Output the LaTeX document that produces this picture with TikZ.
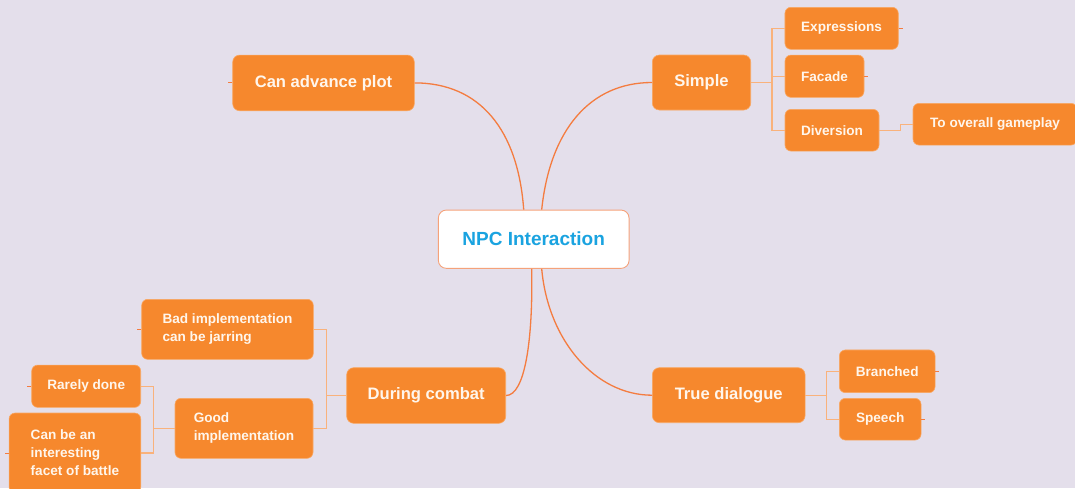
\documentclass[tikz,border=0pt]{standalone}
\usepackage{fontspec}
\setmainfont{Liberation Sans}
\definecolor{bg}{HTML}{E4DFEB}
\definecolor{org}{HTML}{F6882D}
\definecolor{orgline}{HTML}{F9A864}
\definecolor{edge}{HTML}{F47C40}
\definecolor{subedge}{HTML}{F9B27C}
\definecolor{rootborder}{HTML}{F5A27A}
\definecolor{rootblue}{HTML}{1AA3E0}
\definecolor{txt}{HTML}{FFF6EC}
\begin{document}
\begin{tikzpicture}[x=1pt,y=-1pt,
  box/.style={fill=org, draw=orgline, line width=0.6pt, text=txt, inner sep=0pt, rounded corners=7pt, align=left},
  big/.style={box, font=\fontsize{16.6pt}{20pt}\selectfont\bfseries},
  small/.style={box, rounded corners=6pt, font=\fontsize{13.6pt}{18pt}\selectfont\bfseries},
  rootbox/.style={fill=white, draw=rootborder, line width=0.9pt, rounded corners=8pt, inner sep=0pt, text=rootblue, font=\fontsize{19pt}{22pt}\selectfont\bfseries},
  mainedge/.style={draw=edge, line width=1.3pt},
  subedge/.style={draw=subedge, line width=1.2pt},
  stub/.style={draw=edge, line width=1pt}
]
\fill[bg] (0,0) rectangle (1075,488);
\useasboundingbox (0,0) rectangle (1075,488);
\clip (0,0) rectangle (1075,488);

% nodes
\node[rootbox, minimum width=190.7pt, minimum height=58.3pt] (root) at (533.7,239.2) {NPC Interaction};

\node[big, minimum width=181.6pt, minimum height=55.7pt] (adv) at (323.5,82.9) {Can advance plot};
\node[big, minimum width=98.4pt, minimum height=55pt] (simple) at (701.5,82.5) {Simple};
\node[big, minimum width=152.7pt, minimum height=55pt] (td) at (728.7,395.2) {True dialogue};
\node[big, minimum width=159pt, minimum height=55.6pt] (combat) at (426.2,395.5) {During combat};

\node[small, minimum width=113.3pt, minimum height=42pt] (expr) at (841.6,28.3) {Expressions};
\node[small, minimum width=79pt, minimum height=42.3pt] (fac) at (824.5,76.2) {Facade};
\node[small, minimum width=94pt, minimum height=41.7pt] (div) at (832,130.2) {Diversion};
\node[small, minimum width=164pt, minimum height=41.7pt] (gp) at (995,124.2) {To overall gameplay};

\node[small, minimum width=95.7pt, minimum height=42.7pt] (br) at (887.2,371.3) {Branched};
\node[small, minimum width=81.7pt, minimum height=41.7pt] (sp) at (880.2,419.2) {Speech};

\node[small, minimum width=171.6pt, minimum height=60pt] (bad) at (227.5,329.3) {Bad implementation\\can be jarring};
\node[small, minimum width=138pt, minimum height=60pt] (good) at (244,428.3) {Good\\implementation};
\node[small, minimum width=109pt, minimum height=42.3pt] (rare) at (86.2,386.2) {Rarely done};
\node[small, minimum width=131.7pt, minimum height=80pt] (canbe) at (74.9,453) {Can be an\\interesting\\facet of battle};

% main curves
\draw[mainedge] ([xshift=-10pt]root.north) .. controls (518,130) and (480,82.9) .. (adv.east);
\draw[mainedge] ([xshift=8pt]root.north) .. controls (550,130) and (590,82.5) .. (simple.west);
\draw[mainedge] ([xshift=-2pt]root.south) .. controls (533,340) and (525,395.5) .. (combat.east);
\draw[mainedge] ([xshift=8pt]root.south) .. controls (548,340) and (595,395.2) .. (td.west);

% Simple branch
\draw[subedge] (simple.east) -- ++(21,0) coordinate (sj);
\draw[subedge] (sj) |- (expr.west);
\draw[subedge] (sj) |- (fac.west);
\draw[subedge] (sj) |- (div.west);
\draw[subedge] (div.east) -- ++(21,0) |- (gp.west);

% True dialogue branch
\draw[subedge] (td.east) -- ++(21,0) coordinate (tj);
\draw[subedge] (tj) |- (br.west);
\draw[subedge] (tj) |- (sp.west);

% Combat branch
\draw[subedge] (combat.west) -- ++(-20,0) coordinate (cj);
\draw[subedge] (cj) |- (bad.east);
\draw[subedge] (cj) |- (good.east);
\draw[subedge] (good.west) -- ++(-21,0) coordinate (gj);
\draw[subedge] (gj) |- (rare.east);
\draw[subedge] (gj) |- (canbe.east);

% collapsed stubs
\draw[stub] (adv.west) -- ++(-4,0);
\draw[stub] (expr.east) -- ++(4,0);
\draw[stub] (fac.east) -- ++(4,0);
\draw[stub] (br.east) -- ++(4,0);
\draw[stub] (sp.east) -- ++(4,0);
\draw[stub] (bad.west) -- ++(-4,0);
\draw[stub] (rare.west) -- ++(-4,0);
\draw[stub] (canbe.west) -- ++(-4,0);
\end{tikzpicture}
\end{document}
